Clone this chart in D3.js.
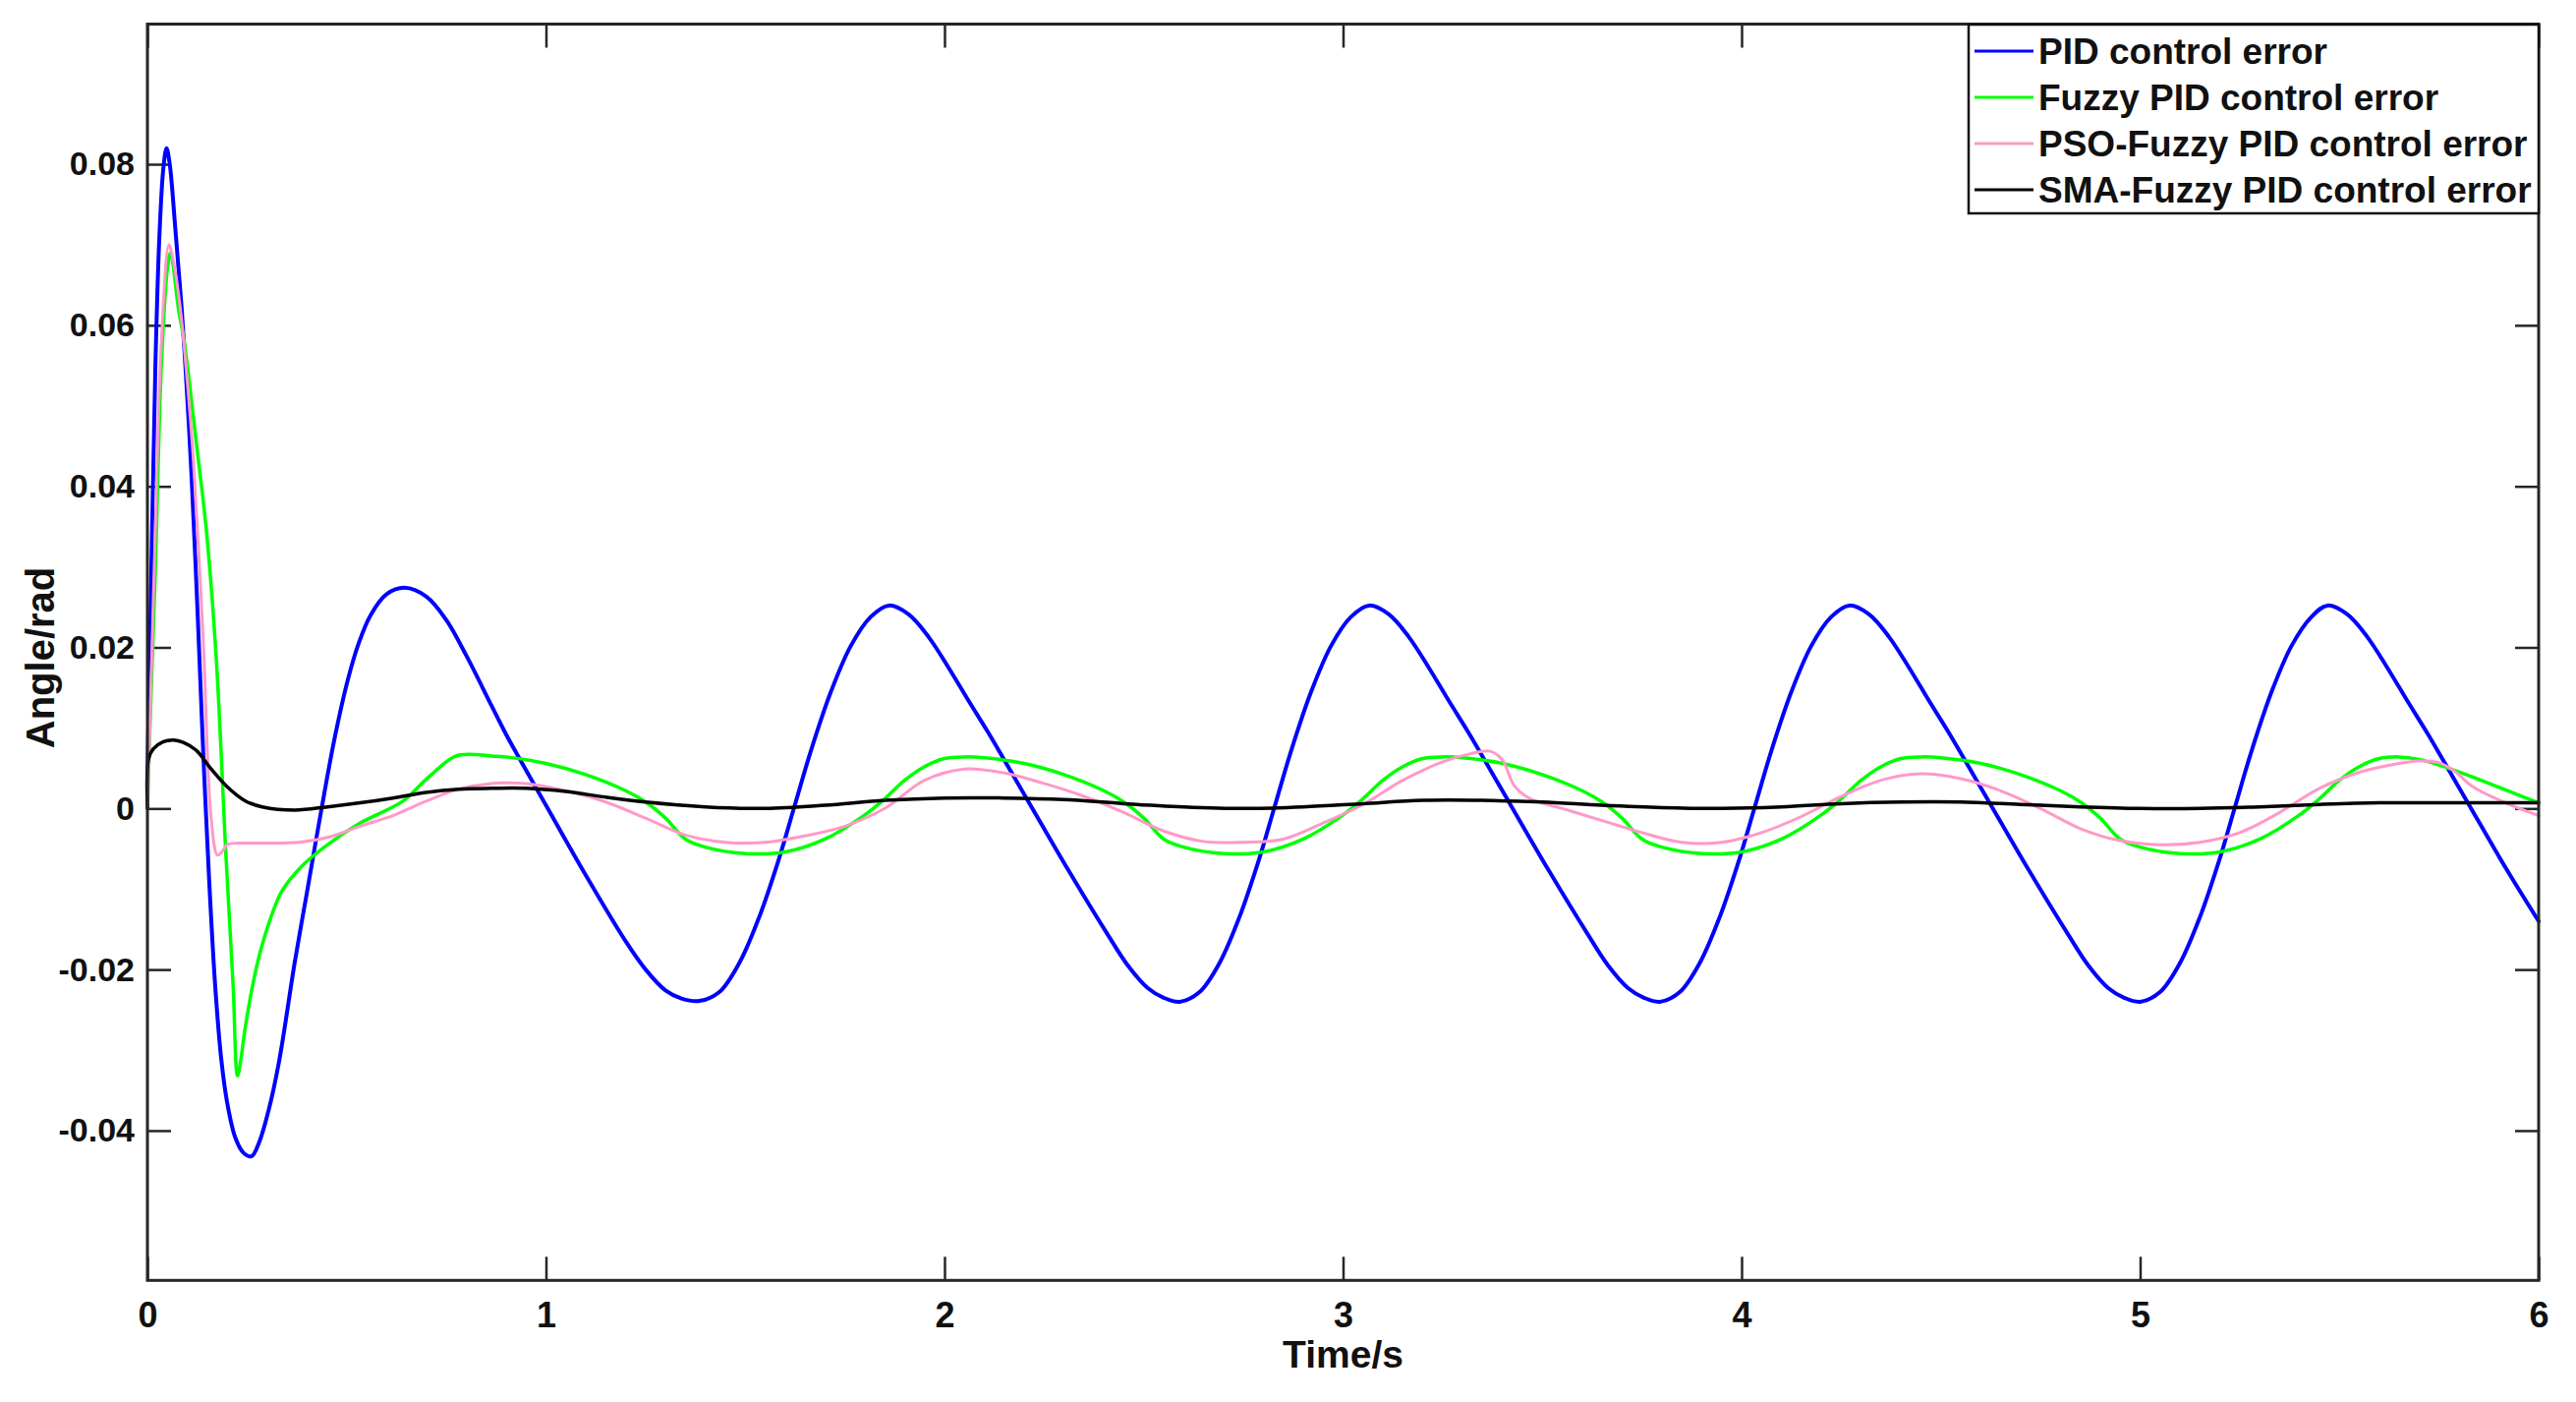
<!DOCTYPE html>
<html>
<head>
<meta charset="utf-8">
<script src="https://cdn.jsdelivr.net/npm/d3@7"></script>
<style>
  html, body { margin: 0; padding: 0; background: #ffffff; }
  svg { display: block; font-family: "Liberation Sans", Arial, Helvetica, sans-serif; }
</style>
</head>
<body>
<svg id="chart" width="2621" height="1426"></svg>
<script>
// ---------------- data ----------------
const seriesNames = ["PID control error", "Fuzzy PID control error", "PSO-Fuzzy PID control error", "SMA-Fuzzy PID control error"];
const seriesColors = ["#0000ff", "#00ff00", "#ff99c8", "#000000"];

const xTickValues = [0, 1, 2, 3, 4, 5, 6];
const xTickLabels = ["0", "1", "2", "3", "4", "5", "6"];
const yTickValues = [-0.04, -0.02, 0, 0.02, 0.04, 0.06, 0.08];
const yTickLabels = ["-0.04", "-0.02", "0", "0.02", "0.04", "0.06", "0.08"];

const xLabel = "Time/s";
const yLabel = "Angle/rad";

// PID control error
const pidTime = [0, 0.01, 0.02, 0.03, 0.04, 0.048, 0.056, 0.07, 0.086, 0.1, 0.111, 0.127, 0.14, 0.155, 0.17, 0.185, 0.2, 0.22, 0.24, 0.261, 0.28, 0.304, 0.33, 0.37, 0.40, 0.437, 0.47, 0.503, 0.53, 0.56, 0.6, 0.645,
  0.7, 0.75, 0.8, 0.863, 0.9, 1.0, 1.1, 1.2, 1.25, 1.3, 1.34, 1.385,
  1.435, 1.485, 1.535, 1.585, 1.622, 1.665, 1.715, 1.765, 1.815, 1.86,
  1.91, 1.96, 2.01, 2.06, 2.11, 2.21, 2.31, 2.41, 2.46, 2.51, 2.55, 2.59,
  2.64, 2.69, 2.74, 2.79, 2.827, 2.87, 2.92, 2.97, 3.02, 3.065,
  3.115, 3.165, 3.215, 3.265, 3.315, 3.415, 3.515, 3.615, 3.665, 3.715, 3.755, 3.795,
  3.845, 3.895, 3.945, 3.995, 4.032, 4.075, 4.125, 4.175, 4.225, 4.27,
  4.32, 4.37, 4.42, 4.47, 4.52, 4.62, 4.72, 4.82, 4.87, 4.92, 4.96, 5.0,
  5.05, 5.1, 5.15, 5.2, 5.237, 5.28, 5.33, 5.38, 5.43, 5.47,
  5.52, 5.57, 5.62, 5.67, 5.72, 5.82, 5.92, 6.0];
const pidError = [0.004, 0.03, 0.055, 0.071, 0.0795, 0.082, 0.080, 0.072, 0.062, 0.051, 0.041, 0.023, 0.007, -0.009, -0.022, -0.031, -0.0365, -0.0408, -0.0427, -0.0432, -0.0415, -0.0375, -0.0315, -0.019, -0.0105, 0.0, 0.0088, 0.016, 0.0205, 0.024, 0.0266, 0.0274,
  0.0263, 0.0234, 0.0190, 0.0128, 0.0092, 0.0004, -0.0083, -0.0165, -0.020, -0.0226, -0.0236, -0.0239,
  -0.0228, -0.0192, -0.0135, -0.0062, 0.0, 0.0072, 0.0145, 0.0202, 0.0238, 0.0252,
  0.0241, 0.0213, 0.0175, 0.0134, 0.0094, 0.0009, -0.0076, -0.0157, -0.0195, -0.0223, -0.0235, -0.0240,
  -0.0228, -0.0192, -0.0135, -0.0062, 0.0, 0.0072, 0.0145, 0.0202, 0.0238, 0.0252,
  0.0241, 0.0213, 0.0175, 0.0134, 0.0094, 0.0009, -0.0076, -0.0157, -0.0195, -0.0223, -0.0235, -0.0240,
  -0.0228, -0.0192, -0.0135, -0.0062, 0.0, 0.0072, 0.0145, 0.0202, 0.0238, 0.0252,
  0.0241, 0.0213, 0.0175, 0.0134, 0.0094, 0.0009, -0.0076, -0.0157, -0.0195, -0.0223, -0.0235, -0.0240,
  -0.0228, -0.0192, -0.0135, -0.0062, 0.0, 0.0072, 0.0145, 0.0202, 0.0238, 0.0252,
  0.0241, 0.0213, 0.0175, 0.0134, 0.0094, 0.0009, -0.0076, -0.0140];

// Fuzzy PID control error
const fuzzyTime = [0, 0.005, 0.02, 0.035, 0.05, 0.058, 0.078, 0.09, 0.105, 0.123, 0.148, 0.173, 0.197, 0.215, 0.226, 0.235, 0.243, 0.26, 0.28, 0.31, 0.337, 0.387, 0.452, 0.534, 0.641, 0.699, 0.773, 0.822, 0.863,
  0.9, 1.0, 1.1, 1.2, 1.25, 1.3, 1.35, 1.4, 1.5, 1.6, 1.7, 1.8, 1.85, 1.9, 1.95, 2.0, 2.05, 2.1,
  2.2, 2.3, 2.4, 2.45, 2.5, 2.55, 2.6, 2.7, 2.8, 2.9, 3.0, 3.05, 3.1, 3.15, 3.2, 3.25, 3.3,
  3.4, 3.5, 3.6, 3.65, 3.7, 3.75, 3.8, 3.9, 4.0, 4.1, 4.2, 4.25, 4.3, 4.35, 4.4, 4.45, 4.5,
  4.6, 4.7, 4.8, 4.85, 4.9, 4.95, 5.0, 5.1, 5.2, 5.3, 5.4, 5.45, 5.5, 5.55, 5.6, 5.65, 5.7, 5.75, 5.835, 5.917, 6.0];
const fuzzyError = [0.0, 0.008, 0.03, 0.055, 0.067, 0.069, 0.062, 0.0587, 0.053, 0.0453, 0.0345, 0.0184, -0.0058, -0.022, -0.0332, -0.031, -0.028, -0.023, -0.0184, -0.0135, -0.0103, -0.0072, -0.0045, -0.0018, 0.0009, 0.0036, 0.0065, 0.0067, 0.0065,
  0.0064, 0.0056, 0.0042, 0.0022, 0.0008, -0.0012, -0.0038, -0.0048, -0.0056, -0.0054, -0.0038, -0.0008, 0.0012, 0.0035, 0.0052, 0.0062, 0.0064, 0.0063,
  0.0056, 0.0042, 0.0022, 0.0008, -0.0012, -0.0038, -0.0048, -0.0056, -0.0054, -0.0038, -0.0008, 0.0012, 0.0035, 0.0052, 0.0062, 0.0064, 0.0063,
  0.0056, 0.0042, 0.0022, 0.0008, -0.0012, -0.0038, -0.0048, -0.0056, -0.0054, -0.0038, -0.0008, 0.0012, 0.0035, 0.0052, 0.0062, 0.0064, 0.0063,
  0.0056, 0.0042, 0.0022, 0.0008, -0.0012, -0.0038, -0.0048, -0.0056, -0.0054, -0.0038, -0.0008, 0.0012, 0.0035, 0.0052, 0.0062, 0.0064, 0.0061, 0.0054, 0.0039, 0.0023, 0.0007];

// PSO-Fuzzy PID control error
const psoTime = [0, 0.005, 0.02, 0.035, 0.054, 0.065, 0.082, 0.1, 0.115, 0.14, 0.16, 0.176, 0.19, 0.2, 0.25, 0.3, 0.38, 0.452, 0.534, 0.616, 0.657, 0.699, 0.781, 0.863, 0.95,
  1.05, 1.15, 1.25, 1.35, 1.45, 1.55, 1.65, 1.75, 1.85, 1.95, 2.05, 2.15, 2.25, 2.35, 2.45, 2.55, 2.65, 2.75, 2.85, 2.95,
  3.05, 3.15, 3.25, 3.32, 3.37, 3.4, 3.43, 3.47, 3.55, 3.65, 3.75, 3.85, 3.95, 4.05, 4.15, 4.25, 4.35, 4.45, 4.55, 4.65, 4.75, 4.85, 4.95,
  5.05, 5.15, 5.25, 5.35, 5.45, 5.55, 5.65, 5.7, 5.75, 5.79, 5.835, 5.917, 6.0];
const psoError = [0.0, 0.008, 0.035, 0.058, 0.070, 0.068, 0.0623, 0.053, 0.0435, 0.021, -0.0013, -0.0058, -0.0052, -0.0045, -0.0043, -0.0043, -0.0042, -0.0036, -0.0022, -0.0009, 0.0, 0.0009, 0.0024, 0.0031, 0.0031,
  0.0022, 0.0008, -0.0012, -0.0033, -0.0042, -0.0042, -0.0034, -0.0022, 0.0, 0.0035, 0.0049, 0.0044, 0.0031, 0.0015, -0.0005, -0.0028, -0.0041, -0.0042, -0.0038, -0.0018,
  0.0005, 0.0035, 0.0058, 0.0068, 0.0071, 0.006, 0.0028, 0.0012, 0.0, -0.0015, -0.003, -0.0042, -0.0042, -0.003, -0.001, 0.0015, 0.0035, 0.0043, 0.0037, 0.0022, 0.0, -0.0025, -0.004,
  -0.0045, -0.0042, -0.003, -0.0005, 0.0025, 0.0045, 0.0056, 0.0059, 0.0057, 0.0046, 0.0027, 0.0007, -0.0009];

// SMA-Fuzzy PID control error
const smaTime = [0, 0.003, 0.015, 0.04, 0.066, 0.09, 0.123, 0.16, 0.2, 0.247, 0.288, 0.37, 0.452, 0.534, 0.616, 0.699, 0.781, 0.863, 0.95,
  1.05, 1.15, 1.25, 1.4, 1.55, 1.7, 1.85, 2.0, 2.15, 2.3, 2.45, 2.6, 2.75, 2.9, 3.05, 3.2, 3.35, 3.5, 3.65, 3.8, 3.95,
  4.1, 4.25, 4.4, 4.55, 4.7, 4.85, 5.0, 5.15, 5.3, 5.45, 5.6, 5.8, 6.0];
const smaError = [0.0, 0.0062, 0.0074, 0.0083, 0.0085, 0.0082, 0.0072, 0.0049, 0.0027, 0.0009, 0.0002, -0.0002, 0.0002, 0.0007, 0.0013, 0.002, 0.0024, 0.0025, 0.0025,
  0.0021, 0.0014, 0.0008, 0.0002, 0.0, 0.0004, 0.001, 0.0013, 0.0013, 0.0011, 0.0006, 0.0002, 0.0, 0.0002, 0.0006, 0.001, 0.001, 0.0008, 0.0004, 0.0001, 0.0,
  0.0002, 0.0006, 0.0008, 0.0008, 0.0005, 0.0002, 0.0, 0.0, 0.0002, 0.0005, 0.0007, 0.0007, 0.0007];

// ---------------- drawing ----------------
const svg = d3.select("#chart");
const plotLeft = 150, plotRight = 2583, plotTop = 24.5, plotBottom = 1302.3;
const x = d3.scaleLinear().domain([0, 6]).range([plotLeft, plotRight]);
const y = d3.scaleLinear().domain([-0.0586, 0.0974]).range([plotBottom, plotTop]);

const axisColor = "#262626";
const tickLen = 24;

function styleAxis(g) {
  g.select(".domain").remove();
  g.selectAll(".tick line").attr("stroke", axisColor).attr("stroke-width", 2.5);
  g.selectAll(".tick text")
    .attr("fill", "#111")
    .attr("font-weight", "bold")
    .attr("font-family", "'Liberation Sans', Arial, sans-serif");
}

// bottom
svg.append("g").attr("transform", `translate(0,${plotBottom})`)
  .call(d3.axisBottom(x).tickValues(xTickValues).tickFormat((d, i) => xTickLabels[i]).tickSizeInner(-tickLen).tickSizeOuter(0).tickPadding(22))
  .call(styleAxis)
  .call(g => g.selectAll(".tick text").attr("font-size", 36));
// top
svg.append("g").attr("transform", `translate(0,${plotTop})`)
  .call(d3.axisTop(x).tickValues(xTickValues).tickFormat("").tickSizeInner(-tickLen).tickSizeOuter(0))
  .call(styleAxis);
// left
svg.append("g").attr("transform", `translate(${plotLeft},0)`)
  .call(d3.axisLeft(y).tickValues(yTickValues).tickFormat((d, i) => yTickLabels[i]).tickSizeInner(-tickLen).tickSizeOuter(0).tickPadding(13))
  .call(styleAxis)
  .call(g => g.selectAll(".tick text").attr("font-size", 34));
// right
svg.append("g").attr("transform", `translate(${plotRight},0)`)
  .call(d3.axisRight(y).tickValues(yTickValues).tickFormat("").tickSizeInner(-tickLen).tickSizeOuter(0))
  .call(styleAxis);

// series
const seriesData = [
  { time: pidTime, vals: pidError, width: 4 },
  { time: fuzzyTime, vals: fuzzyError, width: 3.5 },
  { time: psoTime, vals: psoError, width: 3 },
  { time: smaTime, vals: smaError, width: 3.5 }
];
const line = d3.line().x(d => x(d[0])).y(d => y(d[1])).curve(d3.curveCatmullRom.alpha(0.5));
const plot = svg.append("g");
seriesData.forEach((s, i) => {
  const pts = s.time.map((t, k) => [t, s.vals[k]]);
  plot.append("path")
    .attr("d", line(pts))
    .attr("fill", "none")
    .attr("stroke", seriesColors[i])
    .attr("stroke-width", s.width)
    .attr("stroke-linejoin", "round")
    .attr("stroke-linecap", "round");
});

// frame
svg.append("rect")
  .attr("x", plotLeft).attr("y", plotTop)
  .attr("width", plotRight - plotLeft).attr("height", plotBottom - plotTop)
  .attr("fill", "none").attr("stroke", axisColor).attr("stroke-width", 3);

// axis labels
svg.append("text")
  .attr("x", (plotLeft + plotRight) / 2).attr("y", 1391)
  .attr("text-anchor", "middle")
  .attr("font-size", 39).attr("font-weight", "bold").attr("fill", "#111")
  .text(xLabel);
svg.append("text")
  .attr("transform", `translate(55,669) rotate(-90)`)
  .attr("text-anchor", "middle")
  .attr("font-size", 40).attr("font-weight", "bold").attr("fill", "#111")
  .text(yLabel);

// legend
const legX = 2003, legY = 25, legW = plotRight - 2003, legH = 192;
const leg = svg.append("g");
leg.append("rect")
  .attr("x", legX).attr("y", legY).attr("width", legW).attr("height", legH)
  .attr("fill", "#ffffff").attr("stroke", "#111").attr("stroke-width", 2.5);
const rowY = [52, 99, 146, 193];
seriesNames.forEach((name, i) => {
  leg.append("line")
    .attr("x1", 2009).attr("x2", 2069)
    .attr("y1", rowY[i]).attr("y2", rowY[i])
    .attr("stroke", seriesColors[i]).attr("stroke-width", 3);
  leg.append("text")
    .attr("x", 2074).attr("y", rowY[i] + 13)
    .attr("font-size", 37).attr("font-weight", "bold").attr("fill", "#111")
    .text(name);
});
</script>
</body>
</html>
